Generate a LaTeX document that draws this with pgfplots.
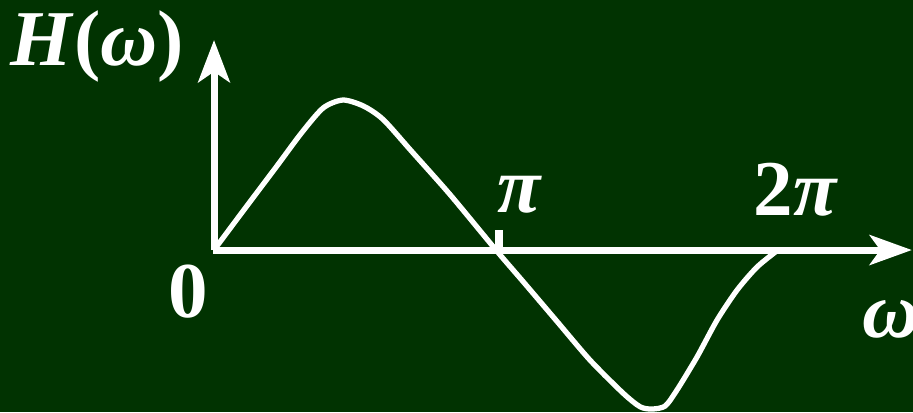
\documentclass[border=0pt]{standalone}
\usepackage{fontspec}
\setmainfont{Liberation Serif}
\usepackage{pgfplots}
\pgfplotsset{compat=1.18}
\usetikzlibrary{arrows.meta}
\definecolor{board}{RGB}{1,51,1}

% H(omega) sampled over one period; x is in units of pi
\pgfplotstableread{
x      y
0.000  0.000
0.103  0.260
0.223  0.560
0.310  0.780
0.387  0.947
0.457  1.000
0.530  0.960
0.600  0.870
0.700  0.660
0.837  0.370
1.000  0.000
1.096 -0.210
1.216 -0.475
1.333 -0.733
1.450 -0.953
1.511 -1.045
1.553 -1.060
1.600 -1.040
1.642 -0.933
1.713 -0.713
1.784 -0.467
1.855 -0.267
1.926 -0.113
2.000  0.000
}\Hdata

\begin{document}
\begin{tikzpicture}[lbl/.style={white, inner sep=0pt, font=\fontsize{22.5}{27}\selectfont\bfseries}]
\begin{axis}[
  scale only axis,
  width=9.13cm, height=4.12cm,
  xmin=-0.759, xmax=2.479,
  ymin=-1.08, ymax=1.667,
  axis line style={draw=none},
  ticks=none,
  axis background/.style={fill=board},
  clip=false,
]
  % axes with arrows
  \draw[white, line width=2pt, -{Stealth[length=12pt,width=8.5pt,inset=3pt]}]
    (axis cs:-0.005,0) -- (axis cs:2.475,0);
  \draw[white, line width=2pt, -{Stealth[length=12pt,width=9pt,inset=3pt]}]
    (axis cs:0,0) -- (axis cs:0,1.40);
  % tick at pi
  \draw[white, line width=2.2pt] (axis cs:1.01,0) -- (axis cs:1.01,0.133);
  % the curve
  \addplot[white, line width=1.5pt, smooth, tension=0.45] table[x=x,y=y] {\Hdata};
  % labels
  \node[lbl, anchor=base west] at (axis cs:-0.723,1.233) {\textit{H}(\textit{ω})};
  \node[lbl, anchor=base] at (axis cs:-0.092,-0.447) {0};
  \node[lbl, anchor=base] at (axis cs:1.085,0.247) {\textit{π}};
  \node[lbl, anchor=base] at (axis cs:2.064,0.233) {2\textit{π}};
  \node[lbl, anchor=base west] at (axis cs:2.298,-0.58) {\textit{ω}};
\end{axis}
\pgfresetboundingbox
\useasboundingbox (current axis.south west) rectangle (current axis.north east);
\end{tikzpicture}
\end{document}
